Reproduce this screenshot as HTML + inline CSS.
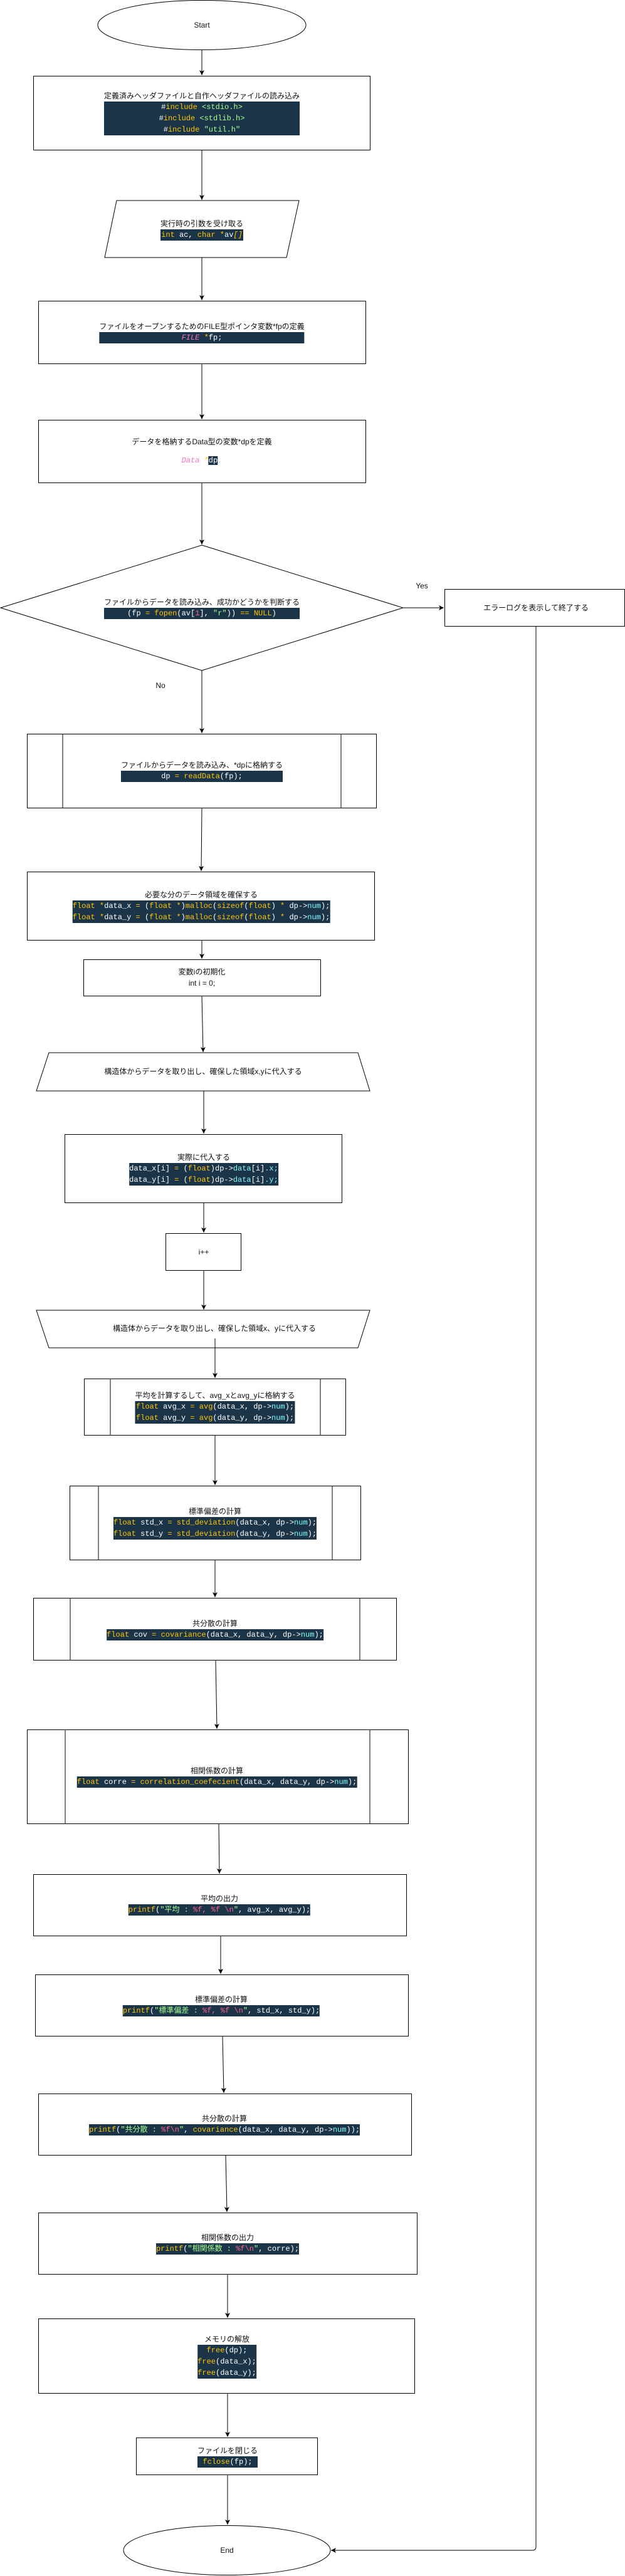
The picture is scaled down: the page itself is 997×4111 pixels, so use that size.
<!DOCTYPE html>
<html><head><meta charset="utf-8">
<style>
html,body{margin:0;padding:0;background:#fff;}
body{width:997px;height:4111px;position:relative;overflow:hidden;font-family:"Liberation Sans","Noto Sans CJK JP",sans-serif;font-size:12px;color:#111;}
svg{position:absolute;left:0;top:0;}
.t{position:absolute;transform:translate(-50%,-50%);text-align:center;white-space:nowrap;line-height:18px;}
.b{display:inline-block;}
.code{background:#1b3447;color:#fff;font-family:"Liberation Mono","Noto Sans CJK JP",monospace;font-size:12px;line-height:18px;}
.k{color:#ffc600}.s{color:#a5ff90}.p{color:#ff628c}.c{color:#80fcff}.i{color:#ff70c0;font-style:italic}
.mono{font-family:"Liberation Mono","Noto Sans CJK JP",monospace;}
</style></head><body>
<svg width="997" height="4111" viewBox="0 0 997 4111">
<defs><marker id="a" markerWidth="10" markerHeight="10" refX="8" refY="5" orient="auto" markerUnits="userSpaceOnUse"><path d="M0,1 L8,5 L0,9 L2,5 Z" fill="#000"/></marker></defs>
<g fill="#fff" stroke="#000" stroke-width="1">
<ellipse cx="322" cy="40" rx="166" ry="39.5"/>
<rect x="53.5" y="121.5" width="537" height="118"/>
<polygon points="186,320 477,320 457,411 167,411"/>
<rect x="61.5" y="480.5" width="522" height="100"/>
<rect x="61.5" y="670.5" width="522" height="100"/>
<polygon points="322,870 643,970 322,1070 1,970"/>
<rect x="709.5" y="940.5" width="287" height="59"/>
<rect x="43.5" y="1171.5" width="557" height="118"/>
<line x1="100" y1="1171" x2="100" y2="1290"/><line x1="544" y1="1171" x2="544" y2="1290"/>
<rect x="43.5" y="1391.5" width="554" height="109"/>
<rect x="133.5" y="1531.5" width="378" height="58"/>
<polygon points="78,1680 571,1680 590,1741 58,1741"/>
<rect x="103.5" y="1810.5" width="442" height="109"/>
<rect x="264.5" y="1968.5" width="120" height="59"/>
<polygon points="58,2091 590,2091 571,2151 78,2151"/>
<rect x="134.5" y="2200.5" width="417" height="90"/>
<line x1="176" y1="2200" x2="176" y2="2291"/><line x1="511" y1="2200" x2="511" y2="2291"/>
<rect x="111.5" y="2371.5" width="464" height="118"/>
<line x1="157" y1="2371" x2="157" y2="2490"/><line x1="530" y1="2371" x2="530" y2="2490"/>
<rect x="53.5" y="2550.5" width="579" height="99"/>
<line x1="112" y1="2550" x2="112" y2="2650"/><line x1="574" y1="2550" x2="574" y2="2650"/>
<rect x="43.5" y="2760.5" width="608" height="150"/>
<line x1="104" y1="2760" x2="104" y2="2911"/><line x1="590" y1="2760" x2="590" y2="2911"/>
<rect x="53.5" y="2991.5" width="595" height="98"/>
<rect x="56.5" y="3151.5" width="595" height="98"/>
<rect x="61.5" y="3341.5" width="595" height="98"/>
<rect x="61.5" y="3531.5" width="604" height="98"/>
<rect x="61.5" y="3700.5" width="600" height="119"/>
<rect x="217.5" y="3890.5" width="289" height="59"/>
<ellipse cx="362" cy="4070" rx="165" ry="39.5"/>
</g>
<g stroke="#000" stroke-width="1" fill="none" marker-end="url(#a)">
<line x1="322" y1="80" x2="322" y2="120"/>
<line x1="322" y1="240" x2="322" y2="319"/>
<line x1="322" y1="411" x2="322" y2="479"/>
<line x1="322" y1="581" x2="322" y2="669"/>
<line x1="322" y1="771" x2="322" y2="869"/>
<line x1="643" y1="970" x2="708" y2="970"/>
<line x1="322" y1="1070" x2="322" y2="1170"/>
<line x1="322" y1="1290" x2="321" y2="1390"/>
<line x1="322" y1="1501" x2="322" y2="1530"/>
<line x1="322" y1="1590" x2="324" y2="1679"/>
<line x1="325" y1="1741" x2="325" y2="1809"/>
<line x1="325" y1="1920" x2="325" y2="1967"/>
<line x1="325" y1="2028" x2="325" y2="2090"/>
<line x1="343" y1="2136" x2="343" y2="2199"/>
<line x1="343" y1="2291" x2="343" y2="2370"/>
<line x1="343" y1="2490" x2="343" y2="2549"/>
<line x1="344" y1="2650" x2="346" y2="2759"/>
<line x1="349" y1="2911" x2="350" y2="2990"/>
<line x1="352" y1="3090" x2="352" y2="3150"/>
<line x1="355" y1="3250" x2="357" y2="3340"/>
<line x1="360" y1="3440" x2="362" y2="3530"/>
<line x1="363" y1="3630" x2="363" y2="3699"/>
<line x1="363" y1="3820" x2="363" y2="3889"/>
<line x1="363" y1="3950" x2="363" y2="4029"/>
<path d="M855,1000 L855,4064 Q855,4070 849,4070 L528,4070"/>
</g>
</svg>

<div class="t" style="left:322px;top:40px">Start</div>
<div class="t" style="left:322px;top:180px"><div class="b"><div>定義済みヘッダファイルと自作ヘッダファイルの読み込み</div><div class="code"><div>#<span class="k">include</span> <span class="s">&lt;stdio.h&gt;</span></div><div>#<span class="k">include</span> <span class="s">&lt;stdlib.h&gt;</span></div><div>#<span class="k">include</span> <span class="s">"util.h"</span></div></div></div></div>
<div class="t" style="left:322px;top:366px"><div class="b"><div>実行時の引数を受け取る</div><div class="code"><span class="k">int</span> ac, <span class="k">char</span> <span class="k">*</span>av<span class="k"><i>[]</i></span></div></div></div>
<div class="t" style="left:322px;top:530px"><div class="b"><div>ファイルをオープンするためのFILE型ポインタ変数*fpの定義</div><div class="code"><span class="i">FILE</span> <span class="k">*</span>fp;</div></div></div>
<div class="t" style="left:322px;top:720px"><div>データを格納するData型の変数*dpを定義</div><div style="height:12px"></div><div class="mono"><span class="i">Data</span> <span class="k">*</span><span style="background:#1b3447;color:#fff">dp</span><span style="color:#dde">;</span></div></div>
<div class="t" style="left:322px;top:970px"><div class="b"><div>ファイルからデータを読み込み、成功かどうかを判断する</div><div class="code">(fp <span class="k">=</span> <span class="k">fopen</span>(av[<span class="p">1</span>], <span class="s">"r"</span>)) <span class="k">==</span> <span class="k">NULL</span>)</div></div></div>
<div class="t" style="left:673px;top:935px">Yes</div>
<div class="t" style="left:855px;top:970px">エラーログを表示して終了する</div>
<div class="t" style="left:256px;top:1094px">No</div>
<div class="t" style="left:322px;top:1230px"><div class="b"><div>ファイルからデータを読み込み、*dpに格納する</div><div class="code">dp <span class="k">=</span> <span class="k">readData</span>(fp);</div></div></div>
<div class="t" style="left:321px;top:1446px"><div class="b"><div>必要な分のデータ領域を確保する</div><div class="code"><div><span class="k">float</span> <span class="k">*</span>data_x <span class="k">=</span> (<span class="k">float</span> <span class="k">*</span>)<span class="k">malloc</span>(<span class="k">sizeof</span>(<span class="k">float</span>) <span class="k">*</span> dp-&gt;<span class="c">num</span>);</div><div><span class="k">float</span> <span class="k">*</span>data_y <span class="k">=</span> (<span class="k">float</span> <span class="k">*</span>)<span class="k">malloc</span>(<span class="k">sizeof</span>(<span class="k">float</span>) <span class="k">*</span> dp-&gt;<span class="c">num</span>);</div></div></div></div>
<div class="t" style="left:322px;top:1560px"><div>変数iの初期化</div><div>int i = 0;</div></div>
<div class="t" style="left:324px;top:1710px">構造体からデータを取り出し、確保した領域x,yに代入する</div>
<div class="t" style="left:325px;top:1865px"><div class="b"><div>実際に代入する</div><div class="code"><div>data_x[i] <span class="k">=</span> (<span class="k">float</span>)dp-&gt;<span class="c">data</span>[i]<span class="c">.x;</span></div><div>data_y[i] <span class="k">=</span> (<span class="k">float</span>)dp-&gt;<span class="c">data</span>[i]<span class="c">.y;</span></div></div></div></div>
<div class="t" style="left:325px;top:1998px">i++</div>
<div class="t" style="left:342px;top:2120px">構造体からデータを取り出し、確保した領域x、yに代入する</div>
<div class="t" style="left:343px;top:2245px"><div class="b"><div>平均を計算するして、avg_xとavg_yに格納する</div><div class="code"><div><span class="k">float</span> avg_x <span class="k">=</span> <span class="k">avg</span>(data_x, dp-&gt;<span class="c">num</span>);</div><div><span class="k">float</span> avg_y <span class="k">=</span> <span class="k">avg</span>(data_y, dp-&gt;<span class="c">num</span>);</div></div></div></div>
<div class="t" style="left:343px;top:2430px"><div class="b"><div>標準偏差の計算</div><div class="code"><div><span class="k">float</span> std_x <span class="k">=</span> <span class="k">std_deviation</span>(data_x, dp-&gt;<span class="c">num</span>);</div><div><span class="k">float</span> std_y <span class="k">=</span> <span class="k">std_deviation</span>(data_y, dp-&gt;<span class="c">num</span>);</div></div></div></div>
<div class="t" style="left:343px;top:2600px"><div class="b"><div>共分散の計算</div><div class="code"><span class="k">float</span> cov <span class="k">=</span> <span class="k">covariance</span>(data_x, data_y, dp-&gt;<span class="c">num</span>);</div></div></div>
<div class="t" style="left:346px;top:2835px"><div class="b"><div>相関係数の計算</div><div class="code"><span class="k">float</span> corre <span class="k">=</span> <span class="k">correlation_coefecient</span>(data_x, data_y, dp-&gt;<span class="c">num</span>);</div></div></div>
<div class="t" style="left:350px;top:3039px"><div class="b"><div>平均の出力</div><div class="code"><span class="k">printf</span>(<span class="s">"平均 : </span><span class="p">%f, %f \n</span><span class="s">"</span>, avg_x, avg_y);</div></div></div>
<div class="t" style="left:353px;top:3200px"><div class="b"><div>標準偏差の計算</div><div class="code"><span class="k">printf</span>(<span class="s">"標準偏差 : </span><span class="p">%f, %f \n</span><span class="s">"</span>, std_x, std_y);</div></div></div>
<div class="t" style="left:358px;top:3390px"><div class="b"><div>共分散の計算</div><div class="code"><span class="k">printf</span>(<span class="s">"共分散 : </span><span class="p">%f\n</span><span class="s">"</span>, <span class="k">covariance</span>(data_x, data_y, dp-&gt;<span class="c">num</span>));</div></div></div>
<div class="t" style="left:363px;top:3580px"><div class="b"><div>相関係数の出力</div><div class="code"><span class="k">printf</span>(<span class="s">"相関係数 : </span><span class="p">%f\n</span><span class="s">"</span>, corre);</div></div></div>
<div class="t" style="left:362px;top:3760px"><div class="b"><div>メモリの解放</div><div class="code"><div><span class="k">free</span>(dp);</div><div><span class="k">free</span>(data_x);</div><div><span class="k">free</span>(data_y);</div></div></div></div>
<div class="t" style="left:363px;top:3920px"><div class="b"><div>ファイルを閉じる</div><div class="code"><span class="k">fclose</span>(fp);</div></div></div>
<div class="t" style="left:362px;top:4070px">End</div>
</body></html>
